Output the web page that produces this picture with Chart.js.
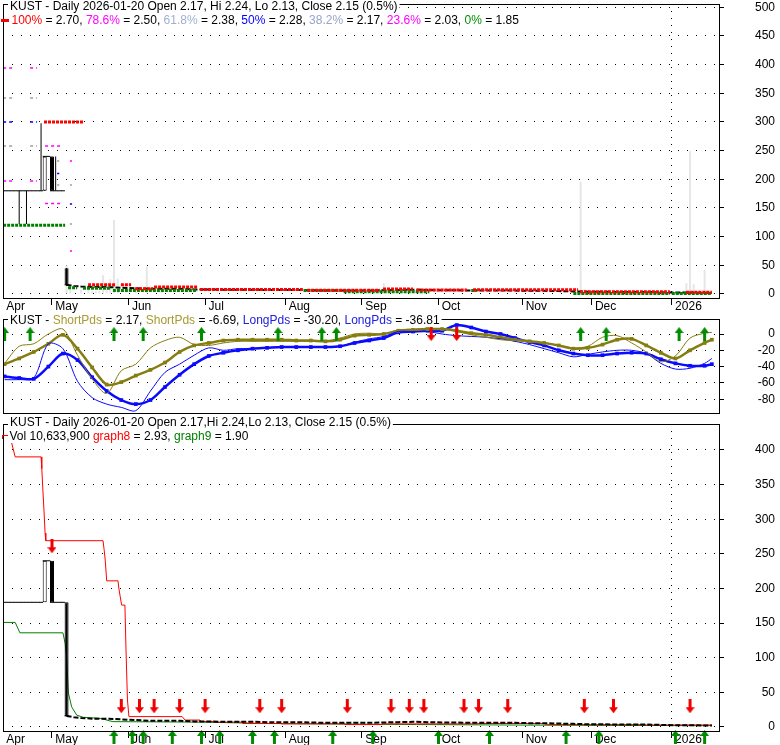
<!DOCTYPE html>
<html>
<head>
<meta charset="utf-8">
<script src="https://cdn.jsdelivr.net/npm/chart.js@4.4.1/dist/chart.umd.min.js"></script>
<style>
  html, body { margin: 0; padding: 0; background: #fff; }
  #wrap { position: relative; width: 780px; height: 745px; }
  canvas { position: absolute; left: 0; top: 0; }
</style>
</head>
<body>
<div id="wrap">
  <canvas id="price" width="780" height="745"></canvas>
  <canvas id="osc" width="780" height="745"></canvas>
  <canvas id="vol" width="780" height="745"></canvas>
</div>
<script>
// x values are trading-day indexes, 0 = May 1 2025
const monthDays = [-13.44, 0, 21, 42, 64, 85, 106, 129, 148, 170];
const monthNames = ["Apr", "May", "Jun", "Jul", "Aug", "Sep", "Oct", "Nov", "Dec", "2026"];
const yearDay = 170;

const priceTicks = [0, 50, 100, 150, 200, 250, 300, 350, 400, 450, 500];
const oscTicks = [0, -20, -40, -60, -80];
const volTicks = [0, 50, 100, 150, 200, 250, 300, 350, 400];

// daily candles around the listing
const candleDays = [-13, -12, -11, -10, -9, -8, -7, -6, -5, -4, -3, -2, -1, 0, 1, 2, 3, 4];
const candleOpen = [180, 180, 180, 180, 180, 180, 180, 180, 180, 180, 180, 180, 240, 240, 180, 180, 180, 45];
const candleHigh = [180, 180, 180, 180, 180, 180, 180, 180, 180, 180, 298, 240, 240, 240, 240, 180, 180, 45];
const candleLow = [180, 180, 180, 180, 122, 180, 122, 180, 180, 180, 180, 180, 240, 180, 180, 180, 180, 14];
const candleClose = [180, 180, 180, 180, 180, 180, 180, 180, 180, 180, 180, 240, 240, 180, 180, 180, 180, 16];

// closes after the crash
const closeDays = [4, 5, 6, 8, 11, 15, 19, 23, 27, 31, 35, 39, 43, 47, 51, 55, 59, 63, 67, 71, 75, 79, 83, 87, 91, 95, 99, 103, 107, 111, 115, 119, 123, 127, 131, 135, 139, 143, 147, 151, 155, 159, 163, 167, 171, 175, 179, 181];
const closeVals = [16, 15, 14, 13, 12, 12, 11, 10, 9, 9, 9, 8, 8, 7.5, 7.5, 7.5, 7, 7, 7, 6.5, 6, 6, 6, 6, 6.5, 7, 7.5, 7, 6.5, 6.5, 6, 6, 6, 6, 5.5, 5.5, 5, 4.5, 4, 4, 3.5, 3.5, 3.5, 3, 2.5, 2.5, 2.2, 2.15];

const volDays = [4, 5, 8, 10, 11, 12, 13, 14, 15, 16, 17, 18, 23, 26, 30, 91, 145, 146, 174, 175, 176, 179];
const volVals = [50, 20, 7, 13, 5, 5, 5, 33, 19, 26, 129, 27, 3, 48, 3, 19, 196, 8, 19, 249, 17, 42];

// [from day, to day, level]
const resistSegs = [[-2.2, 8.5, 300], [9.9, 17.3, 16], [18.9, 21.7, 16], [22.8, 27.7, 9], [28, 39.8, 12], [40.6, 68.8, 8], [70, 90, 6.5], [90.8, 99, 8.7], [100, 113.8, 7], [115.5, 144.3, 7.5], [144.8, 169.5, 4], [174, 181, 3]];
const supportSegs = [[-13.4, 3.6, 120], [4.4, 6.9, 11], [8.5, 15.9, 10], [16.7, 39.8, 6], [69, 79.5, 6], [80, 103.5, 4], [115, 116.5, 6], [143, 169.5, 1], [170, 181, 1]];
const fibMagenta = [[-13.4, -10.7, 394], [-6, -4.1, 394], [-13.4, -10.7, 197], [-6, -4.1, 197], [-1.9, 2.2, 258], [-1.9, 2.2, 158], [4.9, 5.5, 232], [4.9, 5.5, 75]];
const fibGray = [[-13.4, -10.7, 342], [-6, -4.1, 342], [-13.4, -10.7, 258], [-6, -4.1, 258], [1.4, 2, 232], [1.4, 2, 190], [4.9, 5.5, 190], [4.9, 5.5, 122]];
const fibBlue = [[-13.4, -10.7, 300], [-6, -4.1, 300], [1.4, 2, 210], [4.9, 5.5, 157]];

// oscillator panel
const sampleDays = [-13, -9, -5, -1, 3, 7, 11, 15, 19, 23, 27, 31, 35, 39, 43, 47, 51, 55, 59, 63, 67, 71, 75, 79, 83, 87, 91, 95, 99, 103, 107, 111, 115, 119, 123, 127, 131, 135, 139, 143, 147, 151, 155, 159, 163, 167, 171, 175, 179, 181];
const shortRaw = [-36, -15, -12, 0, 6, -26, -55, -73, -45, -37, -17, -8, -4, -13, -14, -11, -9, -9, -9, -9, -9, -9, -9, -5, 0, 1, 0, 5, 6, 7, 6, 3, -1, -4, -7, -8, -9, -11, -14, -17, -15, -4, -2, -11, -22, -34, -27, -5, 1, 2];
const shortAvg = [-37, -30, -22, -12, -1, -18, -41, -62, -59, -51, -44, -35, -22, -14, -11, -8, -7, -7, -7, -7, -8, -8, -9, -7, -2, -1, 0, 4, 5, 6, 6, 4, 1, -1, -4, -7, -9, -11, -14, -18, -17, -13, -7, -6, -14, -23, -30, -20, -11, -7];
const longRaw = [-56, -56, -54, -12, -18, -58, -78, -86, -90, -94, -70, -47, -37, -26, -17, -20, -18, -18, -17, -16, -16, -16, -16, -15, -10, -6, -3, 3, 3, 3, 0, -2, -3, -4, -6, -9, -13, -18, -23, -28, -25, -22, -20, -20, -24, -36, -43, -42, -36, -30];
const longAvg = [-52, -54, -55, -40, -24, -32, -53, -70, -81, -86, -81, -65, -50, -37, -27, -23, -20, -18, -17, -16, -16, -16, -16, -15, -11, -8, -5, 2, 3, 4, 4, 11, 8, 3, 0, -5, -10, -14, -20, -24, -26, -26, -24, -23, -24, -31, -36, -39, -39, -37];
const buyDays2 = [-13, -6, 17, 25, 41, 62, 74, 78, 145, 152, 172, 179];
const sellDays2 = [104, 111];
const arrowLevel2 = 0;

// volume panel lines
const g8Days = [-11.3, -10.1, -3.0, -2.8, -2.5, -2.2, -1.9, -1.7, 14.0, 14.3, 14.6, 15.0, 18.1, 18.4, 19.1, 20.0, 20.3, 20.7, 21.1, 35.7, 36.5, 40.6, 40.6, 44.7, 44.7, 52.4, 52.4, 62.8, 62.8, 80.4, 80.4, 90.5, 90.5, 116.8, 116.8, 134.7, 136.3, 162.6, 162.6, 181];
const g8Vals = [415, 390, 390, 373, 342, 313, 280, 269, 269, 256, 241, 211, 211, 198, 176, 176, 111, 39, 15, 15, 10, 10, 8, 8, 7, 7, 5, 5, 4.5, 4.5, 3.5, 3.5, 4.5, 4.5, 5, 5, 3.4, 3.4, 2.9, 2.93];
const g9Days = [-13.4, -10.1, -8.8, 3.0, 3.6, 4.0, 4.5, 5.4, 6.8, 8.6, 13.2, 16.7, 40.6, 60, 100, 140, 181];
const g9Vals = [151, 151, 136, 136, 121, 101, 49, 29, 17, 14, 12.5, 7.7, 7, 5, 3.5, 2.5, 1.9];
const sellDays3 = [0, 19, 24, 28, 35, 42, 57, 63, 81, 93, 98, 102, 113, 117, 125, 146, 154, 175];
const sellLevels3 = [261, 30, 30, 30, 30, 30, 30, 30, 30, 30, 30, 30, 30, 30, 30, 30, 30, 30];
const buyDays3 = [17, 22, 25, 33, 41, 46, 55, 61, 77, 88, 106, 120, 141, 150, 171, 179];
const buyLevel3 = -14.4;

const X_MIN = -13.44, X_MAX = 182.95;
const FONT = '12px "Liberation Sans", Arial, sans-serif';
Chart.defaults.font.family = '"Liberation Sans", Arial, sans-serif';
Chart.defaults.font.size = 12;
Chart.defaults.color = "#000";

function pts(days, vals) {
  return days.map((d, i) => ({ x: d, y: vals[i] }));
}
function segPoints(segs) {
  const out = [];
  segs.forEach(([a, b, v]) => { out.push({ x: a, y: v }, { x: b, y: v }, { x: b, y: null }); });
  return out;
}
function arrow(color, up) {
  const c = document.createElement("canvas");
  c.width = 9; c.height = 14;
  const g = c.getContext("2d");
  g.fillStyle = color;
  g.beginPath();
  if (up) {
    g.moveTo(4.5, 0); g.lineTo(9, 6); g.lineTo(6, 6); g.lineTo(6, 14); g.lineTo(3, 14); g.lineTo(3, 6); g.lineTo(0, 6);
  } else {
    g.moveTo(3, 0); g.lineTo(6, 0); g.lineTo(6, 8); g.lineTo(9, 8); g.lineTo(4.5, 14); g.lineTo(0, 8); g.lineTo(3, 8);
  }
  g.closePath();
  g.fill();
  return c;
}
const UP = arrow("#008c00", true);
const DOWN = arrow("#f00000", false);

function xScale(show, axisHeight) {
  return {
    type: "linear", min: X_MIN, max: X_MAX, bounds: "data", offset: false, display: show,
    afterBuildTicks: (s) => { s.ticks = monthDays.map((v) => ({ value: v })); },
    afterFit: (s) => { s.height = axisHeight; s.paddingLeft = 0; s.paddingRight = 0; },
    grid: {
      offset: false, lineWidth: 1, tickLength: 7,
      color: (c) => (c.tick && c.tick.value === yearDay ? "#000" : "rgba(0,0,0,0)"),
      tickColor: (c) => (c.index === 0 ? "rgba(0,0,0,0)" : "#000"),
    },
    border: { color: "#000", dash: [1, 6] },
    ticks: { autoSkip: false, maxRotation: 0, align: "start", padding: -6, color: "#000",
      callback: (v, i) => " " + monthNames[i] },
  };
}
// labels are right-aligned on the axis' right edge (780 - 5 = 775)
function yScale(min, max, ticks) {
  return {
    position: "right", min: min, max: max, bounds: "data",
    afterBuildTicks: (s) => { s.ticks = ticks.map((v) => ({ value: v })); },
    afterFit: (s) => { s.width = 56; s.paddingTop = 0; s.paddingBottom = 0; },
    grid: { color: "#000", tickColor: "#000", tickLength: 5, lineWidth: 1 },
    border: { color: "#000", dash: [1, 8] },
    ticks: { crossAlign: "far", padding: 4, color: "#000" },
  };
}

function drawRuns(ctx, x, base, runs) {
  ctx.font = FONT;
  const w = runs.reduce((s, r) => s + ctx.measureText(r[0]).width, 0);
  ctx.fillStyle = "#fff";
  ctx.fillRect(x - 2, base - 11, w + 4, 14);
  ctx.textBaseline = "alphabetic";
  ctx.textAlign = "left";
  runs.forEach(([t, c]) => { ctx.fillStyle = c; ctx.fillText(t, x, base); x += ctx.measureText(t).width; });
}

// frame round the plot and the header lines
const framePlugin = {
  id: "frame",
  afterDraw(chart, args, opts) {
    const { ctx, chartArea: a } = chart;
    ctx.save();
    ctx.strokeStyle = "#000";
    ctx.lineWidth = 1;
    ctx.strokeRect(a.left + 0.5, a.top + 0.5, a.right - a.left, a.bottom - a.top);
    (opts.lines || []).forEach((l) => drawRuns(ctx, l.x, l.y, l.runs));
    (opts.marks || []).forEach((m) => { ctx.fillStyle = m[4]; ctx.fillRect(m[0], m[1], m[2], m[3]); });
    ctx.restore();
  },
};

const common = { responsive: false, animation: false, events: [] };
const K = "#000";

// ---------- price panel ----------
new Chart(document.getElementById("price"), {
  type: "bar",
  data: {
    datasets: [
      { type: "bar", data: pts(volDays, volVals), backgroundColor: "#e6e6e6", barThickness: 2, grouped: false, inflateAmount: 0, order: 10 },
      { type: "line", data: segPoints(fibMagenta), borderColor: "#ff00ff", borderWidth: 1.5, borderDash: [3, 3], pointRadius: 0, spanGaps: false, order: 9 },
      { type: "line", data: segPoints(fibGray), borderColor: "#a0a0a0", borderWidth: 1.5, borderDash: [3, 3], pointRadius: 0, spanGaps: false, order: 9 },
      { type: "line", data: segPoints(fibBlue), borderColor: "#0000ff", borderWidth: 1.5, borderDash: [3, 3], pointRadius: 0, spanGaps: false, order: 9 },
      { type: "line", data: pts(closeDays, closeVals), borderColor: K, borderWidth: 2, borderDash: [5, 2], pointRadius: 0, order: 8 },
      { type: "line", data: segPoints(supportSegs), borderColor: "#008000", borderWidth: 3, borderDash: [3, 1], pointRadius: 0, spanGaps: false, order: 7 },
      { type: "line", data: segPoints(resistSegs), borderColor: "#ff0000", borderWidth: 3, borderDash: [3, 1], pointRadius: 0, spanGaps: false, order: 6 },
      { type: "bar", data: candleDays.map((d, i) => ({ x: d, y: [candleLow[i], candleHigh[i]] })), backgroundColor: K, barThickness: 1, grouped: false, inflateAmount: 0, order: 4 },
      { type: "bar", data: candleDays.map((d, i) => ({ x: d, y: [candleOpen[i], candleClose[i]] })),
        backgroundColor: (c) => (c.raw && c.raw.y[1] >= c.raw.y[0] ? "#fff" : K),
        borderColor: K, borderWidth: 1, borderSkipped: false, barThickness: 4, grouped: false, inflateAmount: 0, order: 3 },
      { type: "line", data: pts(candleDays, candleClose), showLine: false, pointStyle: "line", pointRadius: 2, pointBorderWidth: 1, pointBorderColor: K, order: 2 },
    ],
  },
  options: {
    ...common,
    layout: { autoPadding: false, padding: { left: 3, right: 5, top: 4, bottom: 430 } },
    scales: { x: xScale(true, 17), y: yScale(-7, 505.8, priceTicks) },
    plugins: {
      legend: { display: false }, tooltip: { enabled: false },
      frame: {
        lines: [
          { x: 10, y: 10, runs: [["KUST - Daily 2026-01-20 Open 2.17, Hi 2.24, Lo 2.13, Close 2.15 (0.5%)", K]] },
          { x: 11.5, y: 24, runs: [["100%", "#ff0000"], [" = 2.70, ", K], ["78.6%", "#ff00ff"], [" = 2.50, ", K],
            ["61.8%", "#a0b0d0"], [" = 2.38, ", K], ["50%", "#0000ff"], [" = 2.28, ", K], ["38.2%", "#98a4c8"],
            [" = 2.17, ", K], ["23.6%", "#ff00ff"], [" = 2.03, ", K], ["0%", "#009000"], [" = 1.85", K]] },
        ],
        marks: [[1, 19, 8, 3, "#ff0000"]],
      },
    },
  },
  plugins: [framePlugin],
});

// ---------- oscillator panel ----------
const OLIVE = "#857d10", BLUE = "#0a0aff";
new Chart(document.getElementById("osc"), {
  type: "line",
  data: {
    datasets: [
      { data: pts(sampleDays, shortAvg), borderColor: OLIVE, borderWidth: 2.5, pointStyle: "rect", pointRadius: 2.6, pointBackgroundColor: OLIVE, pointBorderWidth: 0, tension: 0.3, order: 3 },
      { data: pts(sampleDays, longAvg), borderColor: BLUE, borderWidth: 2.5, pointStyle: "rect", pointRadius: 2.6, pointBackgroundColor: BLUE, pointBorderWidth: 0, tension: 0.3, order: 3 },
      { data: pts(sampleDays, shortRaw), borderColor: OLIVE, borderWidth: 1, pointRadius: 0, tension: 0.3, order: 2 },
      { data: pts(sampleDays, longRaw), borderColor: BLUE, borderWidth: 1, pointRadius: 0, tension: 0.3, order: 2 },
      { data: buyDays2.map((d) => ({ x: d, y: arrowLevel2 })), showLine: false, pointStyle: UP, pointRadius: 12, order: 0 },
      { data: sellDays2.map((d) => ({ x: d, y: arrowLevel2 })), showLine: false, pointStyle: DOWN, pointRadius: 12, order: 0 },
    ],
  },
  options: {
    ...common,
    layout: { autoPadding: false, padding: { left: 3, right: 5, top: 319, bottom: 332 } },
    scales: { x: xScale(false, 0), y: yScale(-96.9, 18.4, oscTicks) },
    plugins: {
      legend: { display: false }, tooltip: { enabled: false },
      frame: {
        lines: [{ x: 10, y: 324, runs: [["KUST - ", K], ["ShortPds", "#a89a30"], [" = 2.17, ", K], ["ShortPds", "#a89a30"],
          [" = -6.69, ", K], ["LongPds", "#2020e0"], [" = -30.20, ", K], ["LongPds", "#2020e0"], [" = -36.81", K]] }],
      },
    },
  },
  plugins: [framePlugin],
});

// ---------- volume / graph8 / graph9 panel ----------
new Chart(document.getElementById("vol"), {
  type: "bar",
  data: {
    datasets: [
      { type: "line", data: pts(g8Days, g8Vals), borderColor: "#ff0000", borderWidth: 1, pointRadius: 0, order: 5 },
      { type: "line", data: pts(g9Days, g9Vals), borderColor: "#008000", borderWidth: 1, pointRadius: 0, order: 5 },
      { type: "line", data: pts(closeDays, closeVals), borderColor: K, borderWidth: 2, borderDash: [5, 2], pointRadius: 0, order: 4 },
      { type: "bar", data: candleDays.map((d, i) => ({ x: d, y: [i ? candleClose[i - 1] : candleClose[0], candleClose[i]] })),
        backgroundColor: (c) => (c.raw && c.raw.y[1] >= c.raw.y[0] ? "#fff" : K),
        borderColor: K, borderWidth: 1, borderSkipped: false, barThickness: 4, grouped: false, inflateAmount: 0, order: 3 },
      { type: "line", data: pts(candleDays, candleClose), showLine: false, pointStyle: "line", pointRadius: 2, pointBorderWidth: 1, pointBorderColor: K, order: 2 },
      { type: "line", data: pts(sellDays3, sellLevels3), showLine: false, pointStyle: DOWN, pointRadius: 12, order: 0 },
      { type: "line", data: buyDays3.map((d) => ({ x: d, y: buyLevel3 })), showLine: false, pointStyle: UP, pointRadius: 12, clip: false, order: 0 },
    ],
  },
  options: {
    ...common,
    layout: { autoPadding: false, padding: { left: 3, right: 5, top: 424, bottom: 0 } },
    scales: { x: xScale(true, 14), y: yScale(-5.8, 437.5, volTicks) },
    plugins: {
      legend: { display: false }, tooltip: { enabled: false },
      frame: {
        lines: [
          { x: 10, y: 426, runs: [["KUST - Daily 2026-01-20 Open 2.17,Hi 2.24,Lo 2.13, Close 2.15 (0.5%)", K]] },
          { x: 9.5, y: 440, runs: [["Vol 10,633,900 ", K], ["graph8", "#ff0000"], [" = 2.93, ", K], ["graph9", "#008000"], [" = 1.90", K]] },
        ],
        marks: [[2, 435, 6, 1, "#ff0000"], [2, 435, 1, 4, "#ff0000"]],
      },
    },
  },
  plugins: [framePlugin],
});
</script>
</body>
</html>
